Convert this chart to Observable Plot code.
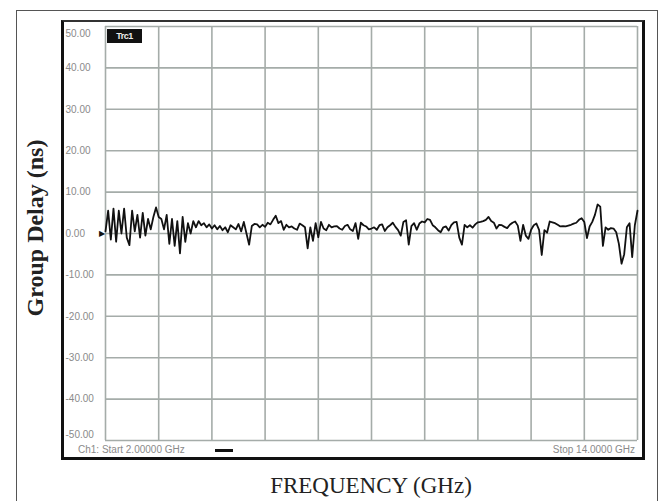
<!DOCTYPE html>
<html>
<head>
<meta charset="utf-8">
<script src="https://cdn.jsdelivr.net/npm/d3@7"></script>
<script src="https://cdn.jsdelivr.net/npm/@observablehq/plot@0.6"></script>
<style>
  html, body { margin: 0; padding: 0; background: #fff; }
  #wrap { position: relative; width: 664px; height: 501px; overflow: hidden; }
  #wrap > * { position: absolute; }
  .outer { left: 16px; top: 10px; width: 640px; height: 520px; border: 1px solid #555; }
  .frame { left: 61px; top: 20px; width: 584px; height: 440px; box-sizing: border-box;
           border: 3px solid #111; border-top: 2px solid #333; }
  .mkr { left: 107px; top: 29px; width: 35px; height: 14px; background: #111; color: #eee;
         font: bold 9px "Liberation Sans", sans-serif; line-height: 14px; text-align: center; letter-spacing: -0.5px; }
  .small { font: 10px "Liberation Sans", sans-serif; color: #8a8a8a; white-space: nowrap; line-height: 12px; }
  .dash { left: 215px; top: 449px; width: 18px; height: 3px; background: #111; }
  .xlab { left: 171px; width: 400px; top: 472px; text-align: center;
          font: 23px "Liberation Serif", serif; color: #222; line-height: 28px; }
  .ylab { left: 35px; top: 228px; transform: translate(-50%, -50%) rotate(-90deg); white-space: nowrap;
          font: bold 24px "Liberation Serif", serif; color: #222; line-height: 28px; }
</style>
</head>
<body>
<div id="wrap"></div>
<script>
// Sweep settings
const freqStartGHz = 2;
const freqStopGHz = 14;
// Group delay trace (ns), 201 sweep points
const groupDelayNs = [
  0.5, 5.5, -1.5, 6, -2, 5.5, 0, 6, -1, -2.8, 5.5, 0.5, 4.5, -1, 5, -0.5, 3.5, 1, 4, 6.3,
  4, 3.5, 1, 4.5, -2.5, 3.5, -3, 3, -4.8, 4, -2, 2.5, 0, 3, 1.5,
  3, 2, 2.5, 1.5, 2.2, 1.2, 2, 1, 1.8, 0.8, 1.5, 0.3, 2, 1.5,
  1, 2.3, 0.5, 2.8, 0, -2.7, 1.8, 2.3, 2.2, 1.5, 2.1, 1.6, 2.6, 2.2, 3.3, 4.3, 2.5, 3, 0.9, 2.1,
  1.5, 1.7, 1.2, 0.9, 2.4, 2, 1.5, -3.6, 1.5, -1.8, 2.5, -0.9, 2.8, 1.2, 0.8, 2.1, 1.5, 1.7, 1.8, 1.2,
  0.9, 1.8, 2.1, 1, 0.6, 2.5, -1.3, 2.6, 2, 1.7, 1,
  1.2, 1.5, 0.9, 2, 2.2, 0.6, 1.5, 2, 2.6, 1.6, 0.8, -0.5, 2.8, 3.2, -2.7, 1.8, 2.5, 0.9, 2.4, 2.9,
  2.7, 3.5, 3.3, 2, 1.5, 0.8, 0.3, 1.5, 1.7, 0.7, 2, 2.7, 2.8, -1, -2.7, 2.1, 1.5, 2, 1.4, 2.2,
  2.7, 2.8, 3, 3.3, 4, 3, 2.6, 1.2, 2.1, 2,
  1.6, 1.3, 2.1, 2.6, 2.9, 1.9, -1.8, 2.1, -0.5, -1.3, 0.9, 2, 2.4, 0.9, -5.2, 0.8, 0.2, 2.9, 2.7, 2.5,
  2.1, 1.7, 1.8, 1.7, 1.9, 2.1, 2.4, 2.6, 3.3, 3.7, 2.8, -1.1, 1.7, 2.8, 4.5, 7, 6.5, -3, 1.5, 0.9,
  1.3, 1.2, 0.3, -2.5, -7.3, -5, 1.5, 2.5, -5.7, 2, 5.5
];
// Grid / tick values
const yTicks = [50, 40, 30, 20, 10, 0, -10, -20, -30, -40, -50];
const xGrid = [2, 3.2, 4.4, 5.6, 6.8, 8, 9.2, 10.4, 11.6, 12.8, 14];
// Texts
const yLabel = "Group Delay (ns)";
const xLabel = "FREQUENCY (GHz)";
const startText = "Ch1: Start 2.00000 GHz";
const stopText = "Stop 14.0000 GHz";
const markerText = "Trc1";

const n = groupDelayNs.length;
const data = groupDelayNs.map((d, i) => ({
  f: freqStartGHz + i * (freqStopGHz - freqStartGHz) / (n - 1),
  d
}));
const fmt = v => v.toFixed(2);
const gridColor = "#a5aca9";

const chart = Plot.plot({
  width: 664,
  height: 501,
  marginLeft: 105,
  marginRight: 27,
  marginTop: 26,
  marginBottom: 61,
  style: { background: "transparent", overflow: "visible" },
  x: { domain: [freqStartGHz, freqStopGHz], axis: null },
  y: { domain: [-50, 50], axis: null },
  marks: [
    Plot.ruleX(xGrid, { stroke: gridColor, strokeWidth: 1.6 }),
    Plot.ruleY(yTicks, { stroke: gridColor, strokeWidth: 1.6 }),
    Plot.text(yTicks.filter(v => v !== 50 && v !== -50), {
      y: d => d, text: fmt, frameAnchor: "left", textAnchor: "start", dx: -40,
      fontSize: 10, fontFamily: "Liberation Sans", fill: "#8a8a8a"
    }),
    Plot.text(yTicks.filter(v => v === 50), {
      y: d => d, text: fmt, frameAnchor: "left", textAnchor: "start", dx: -40, dy: 7,
      fontSize: 10, fontFamily: "Liberation Sans", fill: "#8a8a8a"
    }),
    Plot.text(yTicks.filter(v => v === -50), {
      y: d => d, text: fmt, frameAnchor: "left", textAnchor: "start", dx: -40, dy: -6,
      fontSize: 10, fontFamily: "Liberation Sans", fill: "#8a8a8a"
    }),
    Plot.text([0], { x: () => freqStartGHz, y: d => d, text: () => "\u25B6", dx: -4, fontSize: 8, fill: "#111" }),
    Plot.line(data, { x: "f", y: "d", stroke: "#111", strokeWidth: 1.8, strokeLinejoin: "round" })
  ]
});

const wrap = document.getElementById("wrap");
chart.style.position = "absolute";
chart.style.left = "0px";
chart.style.top = "0px";
wrap.appendChild(chart);

function addDiv(cls, text, css) {
  const el = document.createElement("div");
  el.className = cls;
  if (text) el.textContent = text;
  if (css) Object.assign(el.style, css);
  wrap.appendChild(el);
  return el;
}
addDiv("outer");
addDiv("frame");
addDiv("mkr", markerText);
addDiv("small", startText, { left: "78px", top: "444px" });
addDiv("dash");
addDiv("small", stopText, { right: "29px", top: "444px" });
addDiv("xlab", xLabel);
addDiv("ylab", yLabel);
</script>
</body>
</html>
